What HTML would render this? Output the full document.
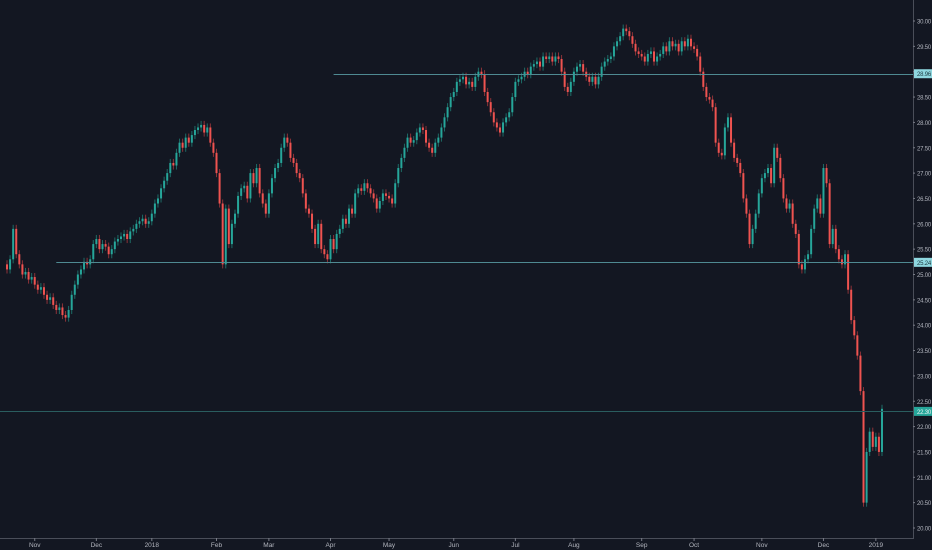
<!DOCTYPE html>
<html><head><meta charset="utf-8"><style>
html,body{margin:0;padding:0;background:#131722;width:932px;height:550px;overflow:hidden}
svg{display:block}
text{font-family:"Liberation Sans",sans-serif}
</style></head><body>
<svg id="chart" width="932" height="550">
<rect x="0" y="0" width="932" height="550" fill="#131722"/>
<g id="marks"></g>
<g id="lines"></g>
<g id="yaxis"></g>
<g id="xaxis"></g>
</svg>
<script>
const closes = [
25.1,25.3,25.9,25.4,25.2,25.0,25.05,24.9,24.95,24.8,24.7,24.75,24.6,24.5,24.55,24.4,24.3,24.35,24.2,24.15,
24.3,24.6,24.8,25.0,25.1,25.25,25.2,25.3,25.6,25.7,
25.5,25.6,25.55,25.4,25.5,25.65,25.7,25.75,25.8,25.7,25.85,25.9,26.0,26.05,26.1,26.0,26.05,26.2,
26.4,26.5,26.7,26.85,27.0,27.2,27.15,27.4,27.6,27.5,27.7,27.6,27.75,27.85,27.9,27.95,27.8,27.9,
27.6,27.4,27.0,26.4,25.2,26.3,25.6,26.0,
26.2,26.55,26.7,26.75,26.5,27.0,26.8,27.1,26.6,26.4,26.2,26.6,
26.9,27.1,27.2,27.5,27.7,27.6,27.3,27.2,27.0,26.9,
26.6,26.3,26.2,25.9,25.6,26.0,25.5,25.4,25.3,25.7,25.5,
25.8,25.9,26.1,26.0,26.3,26.2,26.6,26.7,26.65,26.8,26.7,
26.6,26.5,26.3,26.45,26.6,26.55,26.5,26.4,26.8,27.1,
27.3,27.5,27.7,27.6,27.65,27.8,27.9,27.85,27.6,27.5,27.4,27.6,27.7,27.9,28.1,28.3,
28.5,28.6,28.8,28.85,28.9,28.75,28.8,28.7,28.9,29.0,28.95,28.6,28.4,28.2,28.0,27.9,
27.8,28.0,28.1,28.2,28.5,28.8,28.85,28.9,29.0,28.95,
29.1,29.15,29.2,29.1,29.3,29.25,29.3,29.2,29.3,29.25,
29.0,28.7,28.6,28.8,29.0,29.1,29.15,29.0,28.9,28.8,28.9,28.75,28.9,
29.1,29.2,29.25,29.3,29.5,29.6,29.7,29.85,29.8,29.7,29.55,
29.4,29.35,29.3,29.2,29.35,29.4,29.2,29.3,29.35,29.5,29.4,29.6,29.5,29.55,29.4,29.6,29.5,29.65,29.5,29.45,29.3,
29.0,28.7,28.5,28.45,28.3,27.6,27.4,27.35,27.9,28.1,
27.6,27.3,27.2,27.0,26.5,26.2,25.6,25.9,26.2,26.6,
26.9,27.0,27.1,26.8,27.5,27.3,26.9,26.5,26.3,26.4,26.0,25.8,25.2,
25.1,25.3,25.4,25.9,26.3,26.5,26.2,27.1,26.8,25.6,
25.9,25.5,25.3,25.2,25.4,24.7,24.1,23.8,23.4,22.7,20.5,
21.5,21.9,21.6,21.8,21.5,22.35
];
const firstOpen = 25.2;
const yTicks = [30.0,29.5,29.0,28.5,28.0,27.5,27.0,26.5,26.0,25.5,25.0,24.5,24.0,23.5,23.0,22.5,22.0,21.5,21.0,20.5,20.0];
const monthLabels = ["Nov","Dec","2018","Feb","Mar","Apr","May","Jun","Jul","Aug","Sep","Oct","Nov","Dec","2019"];
const monthIndex = [9,29,47,68,85,105,124,145,165,184,206,223,245,265,282];
const levels = [28.96,25.24,22.30];
const levelStart = [106,16,-3];

const NS="http://www.w3.org/2000/svg";
const X0=7, X1=882, AXX=913, AXY=538;
const step=(X1-X0)/(closes.length-1);
const xs=i=>X0+i*step;
const ys=p=>21+(30-p)*50.7;
function mk(tag,attrs,parent){const e=document.createElementNS(NS,tag);for(const k in attrs)e.setAttribute(k,attrs[k]);parent.appendChild(e);return e;}

const marks=document.getElementById('marks');
closes.forEach((c,i)=>{
  const o=i===0?firstOpen:closes[i-1];
  const up=c>=o;
  const col=up?'#26a69a':'#ef5350';
  const wick=up?'#1d6b66':'#8c3238';
  const hi=Math.max(o,c)+0.08, lo=Math.min(o,c)-0.08;
  const x=xs(i);
  const w=mk('line',{x1:x,x2:x,y1:ys(hi),y2:ys(lo),stroke:wick,'stroke-width':1},marks);
  
  
  const top=ys(Math.max(o,c)), bot=ys(Math.min(o,c));
  const b=mk('rect',{x:x-1,y:top,width:2,height:Math.max(1,bot-top),fill:col},marks);
  
  
});

const lines=document.getElementById('lines');
const ya=document.getElementById('yaxis');
levels.forEach((v,k)=>{
  const y=Math.round(ys(v))+0.5;
  const last=k===levels.length-1;
  const l=mk('line',{x1:k===2?0:xs(levelStart[k]),x2:AXX,y1:y,y2:y,stroke:last?'#2a5d5f':'#4f8a92','stroke-width':1},lines);
  
  
});

mk('line',{x1:AXX+0.5,x2:AXX+0.5,y1:0,y2:AXY,stroke:'#4a4e59','stroke-width':1},ya);
yTicks.forEach(v=>{
  const y=ys(v);
  mk('line',{x1:AXX,x2:AXX+2,y1:y,y2:y,stroke:'#787b86'},ya);
  const t=mk('text',{x:AXX+4,y:y+2.5,fill:'#b2b5be','font-size':6,'letter-spacing':-0.2},ya);
  t.textContent=v.toFixed(2);
  
  
});
levels.forEach((v,k)=>{
  const y=ys(v);
  const last=k===levels.length-1;
  const r=mk('rect',{x:AXX+1,y:y-4.5,width:18,height:9,fill:last?'#26a69a':'#8fd8e0'},ya);
  
  
  const t=mk('text',{x:AXX+4,y:y+2.5,fill:last?'#e8f5f4':'#1b3a40','font-size':6,'letter-spacing':-0.2},ya);
  t.textContent=v.toFixed(2);
  
  
});

const xa=document.getElementById('xaxis');
mk('line',{x1:0,x2:AXX+1,y1:AXY+0.5,y2:AXY+0.5,stroke:'#4a4e59'},xa);
monthLabels.forEach((m,k)=>{
  const x=xs(monthIndex[k]);
  mk('line',{x1:x,x2:x,y1:AXY,y2:AXY+3,stroke:'#787b86'},xa);
  const t=mk('text',{x:x,y:547,fill:'#b2b5be','font-size':6.5,'text-anchor':'middle'},xa);
  t.textContent=m;
  
  
});
</script>
</body></html>
